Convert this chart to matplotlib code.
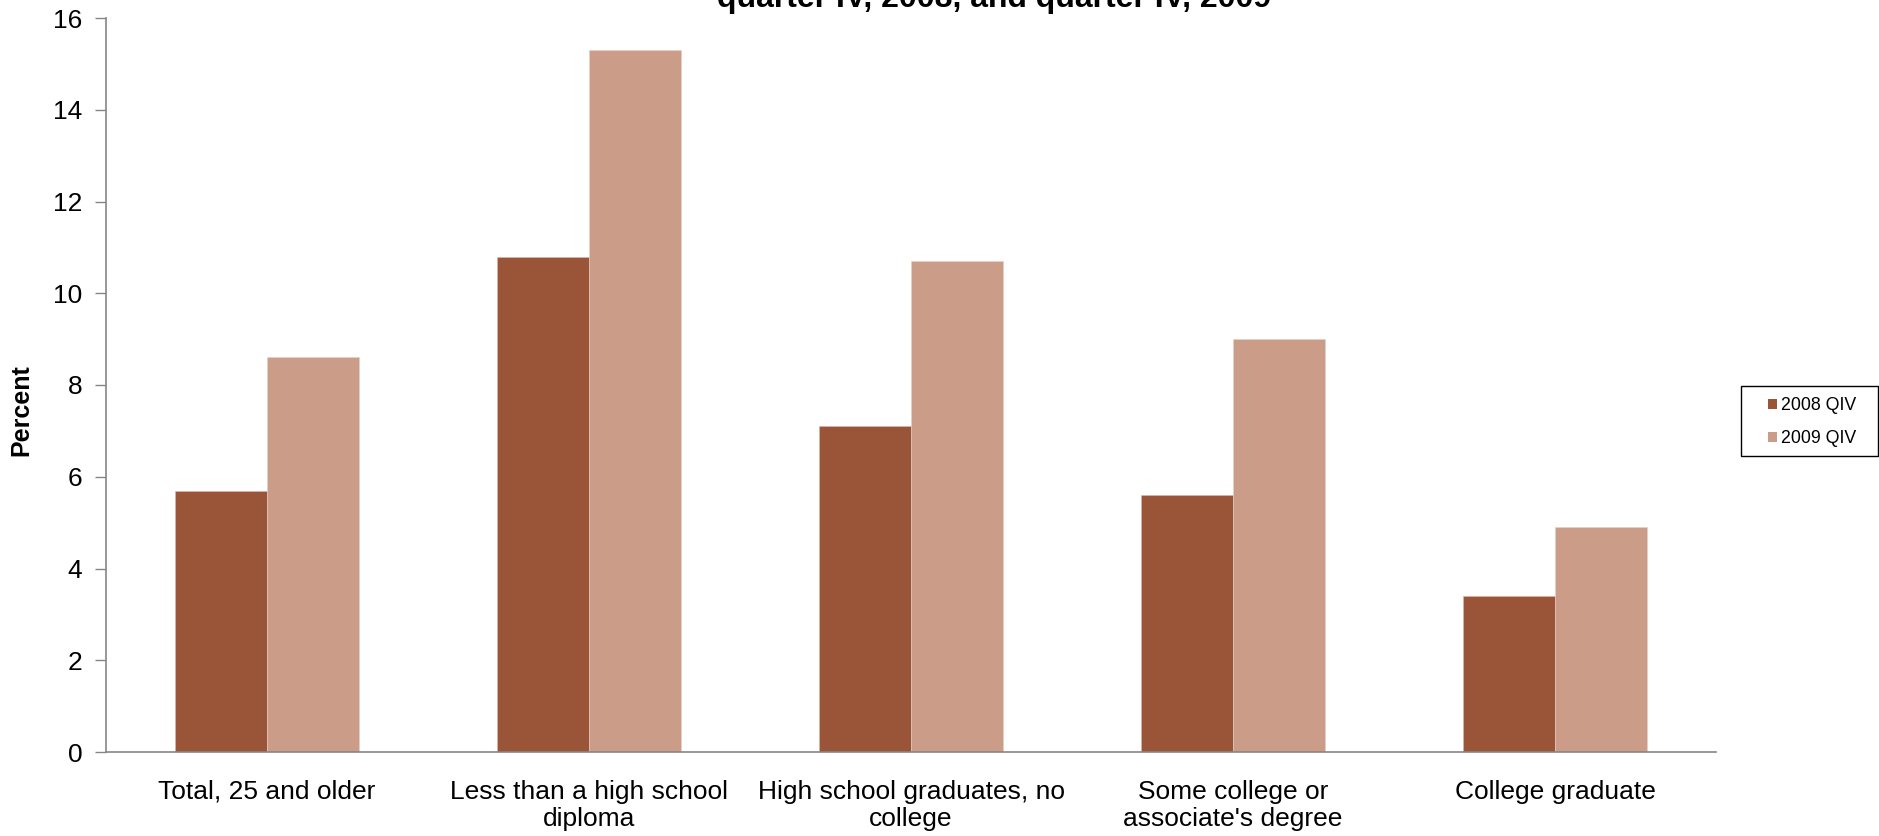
import matplotlib
matplotlib.use("Agg")
import matplotlib.pyplot as plt
from matplotlib.patches import Patch, Rectangle
import numpy as np

plt.rcParams["font.family"] = ["Liberation Sans", "DejaVu Sans"]

categories = [
    "Total, 25 and older",
    "Less than a high school\ndiploma",
    "High school graduates, no\ncollege",
    "Some college or\nassociate's degree",
    "College graduate",
]
series_names = ["2008 QIV", "2009 QIV"]
values_2008 = [5.7, 10.8, 7.1, 5.6, 3.4]
values_2009 = [8.6, 15.3, 10.7, 9.0, 4.9]
y_ticks = [0, 2, 4, 6, 8, 10, 12, 14, 16]

color_dark = "#9A5438"
color_light = "#CB9C87"
axis_grey = "#868686"

W, H = 1879, 836
fig = plt.figure(figsize=(W / 100, H / 100), dpi=100)
ax = fig.add_axes([106 / W, 1 - 752 / H, (1716 - 106) / W, (752 - 18) / H])

x = np.arange(len(categories))
bw = 0.286
ax.bar(x - bw / 2, values_2008, width=bw, color=color_dark,
       edgecolor="#D9B9AC", linewidth=0.4, label=series_names[0])
ax.bar(x + bw / 2, values_2009, width=bw, color=color_light,
       edgecolor="#E6CFC5", linewidth=0.4, label=series_names[1])

ax.set_xlim(-0.5, len(categories) - 0.5)
ax.set_ylim(0, 16)
ax.set_yticks(y_ticks)
ax.set_xticks(x)
ax.set_xticklabels(categories, fontsize=19, linespacing=1.18)
ax.tick_params(axis="x", length=0, pad=20)
ax.tick_params(axis="y", length=8, width=1, color=axis_grey,
               labelsize=19, pad=9, direction="out")

for s in ["top", "right"]:
    ax.spines[s].set_visible(False)
for s in ["left", "bottom"]:
    ax.spines[s].set_color(axis_grey)
    ax.spines[s].set_linewidth(1.2)

fig.text(21 / W, 1 - 410 / H, "Percent", rotation=90, ha="center", va="center",
         fontsize=18, fontweight="bold")

# titre coupe en haut (seule la derniere ligne est visible)
fig.text(994 / W, 1 - 7 / H, "quarter IV, 2008, and quarter IV, 2009",
         ha="center", va="baseline", fontsize=23, fontweight="bold")

# Legende
handles = [Patch(facecolor=color_dark, edgecolor="none"),
           Patch(facecolor=color_light, edgecolor="none")]
fig.legend(handles, series_names, loc="center left",
           bbox_to_anchor=(1768 / W, 1 - 422 / H), frameon=False,
           fontsize=12.8, handlelength=0.5, handleheight=0.5,
           handletextpad=0.25, labelspacing=0.9, borderpad=0,
           borderaxespad=0)
fig.add_artist(Rectangle((1741 / W, 1 - 456 / H), (1878 - 1741) / W, 70 / H,
                         transform=fig.transFigure, fill=False,
                         edgecolor="black", linewidth=1))

fig.savefig("out.png", dpi=100)
